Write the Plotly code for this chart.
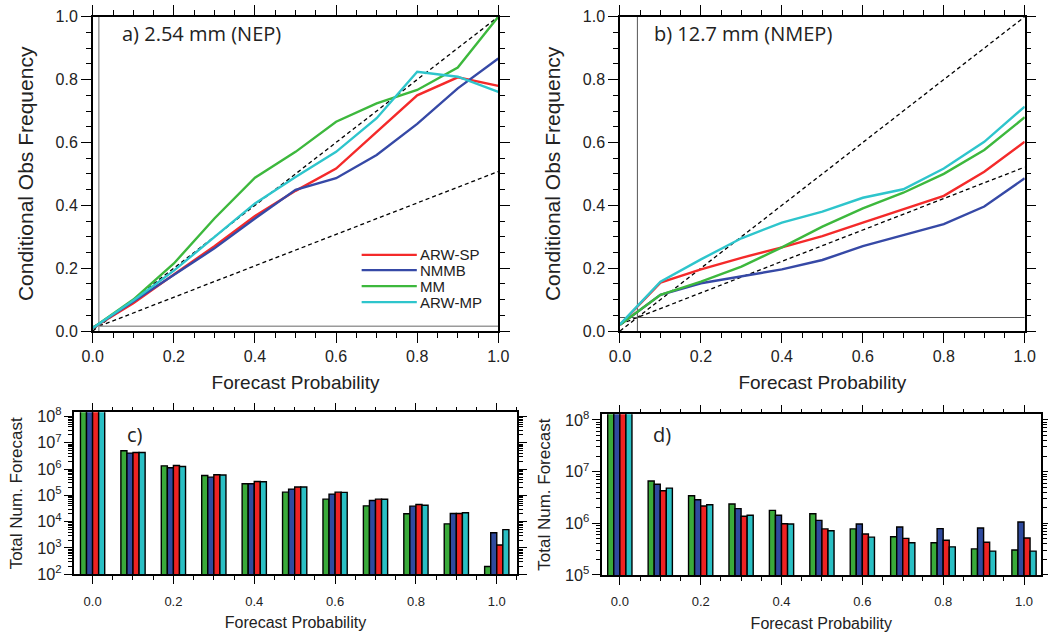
import plotly.graph_objects as go

# ---------------- data ----------------
prob = [0.0, 0.1, 0.2, 0.3, 0.4, 0.5, 0.6, 0.7, 0.8, 0.9, 1.0]
models = ["ARW-SP", "NMMB", "MM", "ARW-MP"]

# panel a) 2.54 mm (NEP) reliability
a_arwsp = [0.01, 0.088, 0.18, 0.27, 0.366, 0.446, 0.517, 0.634, 0.75, 0.807, 0.78]
a_nmmb = [0.01, 0.095, 0.18, 0.263, 0.358, 0.449, 0.486, 0.56, 0.659, 0.772, 0.867]
a_mm = [0.01, 0.10, 0.215, 0.358, 0.488, 0.57, 0.666, 0.724, 0.767, 0.838, 1.0]
a_arwmp = [0.01, 0.097, 0.192, 0.30, 0.406, 0.49, 0.57, 0.677, 0.825, 0.809, 0.761]
clim_a = 0.015

# panel b) 12.7 mm (NMEP) reliability
b_arwsp = [0.02, 0.154, 0.196, 0.233, 0.266, 0.302, 0.345, 0.387, 0.43, 0.507, 0.602]
b_nmmb = [0.02, 0.115, 0.152, 0.175, 0.196, 0.226, 0.27, 0.305, 0.34, 0.396, 0.486]
b_mm = [0.02, 0.115, 0.157, 0.205, 0.266, 0.332, 0.39, 0.44, 0.50, 0.576, 0.68]
b_arwmp = [0.021, 0.157, 0.228, 0.295, 0.345, 0.38, 0.424, 0.451, 0.517, 0.602, 0.714]
clim_b = 0.043

# panel c) forecast counts (2.54 mm)
c_mm = [2e8, 5.0e6, 1.33e6, 5.7e5, 2.76e5, 1.33e5, 7.2e4, 4.0e4, 2.0e4, 8.3e3, 198]
c_nmmb = [2e8, 4.06e6, 1.12e6, 4.95e5, 2.76e5, 1.74e5, 1.12e5, 6.4e4, 3.9e4, 2.04e4, 3.8e3]
c_arwsp = [2e8, 4.3e6, 1.37e6, 6.07e5, 3.4e5, 2.1e5, 1.33e5, 7.2e4, 4.5e4, 2.04e4, 1.3e3]
c_arwmp = [2e8, 4.3e6, 1.26e6, 6.0e5, 3.3e5, 2.1e5, 1.3e5, 7.1e4, 4.2e4, 2.2e4, 5.0e3]

# panel d) forecast counts (12.7 mm)
d_mm = [2e8, 6.6e6, 3.42e6, 2.36e6, 1.78e6, 1.53e6, 7.8e5, 5.5e5, 4.2e5, 3.2e5, 3.05e5]
d_nmmb = [2e8, 5.7e6, 2.86e6, 1.92e6, 1.43e6, 1.14e6, 9.7e5, 8.5e5, 7.9e5, 8.1e5, 1.06e6]
d_arwsp = [2e8, 4.27e6, 2.16e6, 1.37e6, 9.8e5, 7.8e5, 6.2e5, 5.1e5, 4.7e5, 4.3e5, 5.2e5]
d_arwmp = [2e8, 4.8e6, 2.29e6, 1.43e6, 9.7e5, 7.2e5, 5.4e5, 4.2e5, 3.5e5, 2.9e5, 2.9e5]

line_colors = {"ARW-SP": "#F42A2A", "NMMB": "#3649A6", "MM": "#3DB83D", "ARW-MP": "#2EC5CC"}
bar_colors = {"MM": "#3AAA3A", "NMMB": "#2F4A9E", "ARW-SP": "#EE2222", "ARW-MP": "#2ABFC4"}

FONT = "Liberation Sans, Arial, sans-serif"
LBL_FONT = "Open Sans, sans-serif"

fig = go.Figure()

# ---------------- reliability panels ----------------
def reliability(xa, ya, series, clim, clim_color, clim_w):
    fig.add_trace(go.Scatter(x=[0, 1], y=[0, 1], mode="lines", xaxis=xa, yaxis=ya,
                             line=dict(color="black", width=1.3, dash="4px,3px"),
                             showlegend=False, hoverinfo="skip"))
    fig.add_trace(go.Scatter(x=[0, 1], y=[clim / 2, (1 + clim) / 2], mode="lines", xaxis=xa, yaxis=ya,
                             line=dict(color="black", width=1.3, dash="4px,3px"),
                             showlegend=False, hoverinfo="skip"))
    fig.add_trace(go.Scatter(x=[clim, clim], y=[0, 1], mode="lines", xaxis=xa, yaxis=ya,
                             line=dict(color=clim_color, width=clim_w),
                             showlegend=False, hoverinfo="skip"))
    fig.add_trace(go.Scatter(x=[0, 1], y=[clim, clim], mode="lines", xaxis=xa, yaxis=ya,
                             line=dict(color=clim_color, width=clim_w),
                             showlegend=False, hoverinfo="skip"))
    for name, vals in series:
        fig.add_trace(go.Scatter(x=prob, y=vals, mode="lines", name=name, xaxis=xa, yaxis=ya,
                                 line=dict(color=line_colors[name], width=2.4),
                                 showlegend=False))

reliability("x", "y", [("ARW-SP", a_arwsp), ("NMMB", a_nmmb), ("MM", a_mm), ("ARW-MP", a_arwmp)],
            clim_a, "#9a9a9a", 1.5)
reliability("x2", "y2", [("ARW-SP", b_arwsp), ("NMMB", b_nmmb), ("MM", b_mm), ("ARW-MP", b_arwmp)],
            clim_b, "#555555", 1.0)

# ---------------- count panels ----------------
for xa, ya, series in [("x3", "y3", [("MM", c_mm), ("NMMB", c_nmmb), ("ARW-SP", c_arwsp), ("ARW-MP", c_arwmp)]),
                       ("x4", "y4", [("MM", d_mm), ("NMMB", d_nmmb), ("ARW-SP", d_arwsp), ("ARW-MP", d_arwmp)])]:
    for name, vals in series:
        fig.add_trace(go.Bar(x=prob, y=vals, name=name, xaxis=xa, yaxis=ya,
                             marker=dict(color=bar_colors[name], line=dict(color="black", width=1.4)),
                             offsetgroup=name, showlegend=False))

# ---------------- axes ----------------
def lin_axis(domain, title, anchor, dtick=0.2, minor_dtick=0.05, fs=16, tfs=19, standoff=10):
    return dict(domain=domain, range=[0, 1], anchor=anchor, dtick=dtick, tick0=0,
                tickformat=".1f", ticks="outside", ticklen=10, tickwidth=1.3, tickcolor="black",
                minor=dict(dtick=minor_dtick, ticks="outside", ticklen=5, tickwidth=1, tickcolor="black"),
                showline=True, linecolor="black", linewidth=1.5, mirror="ticks",
                showgrid=False, zeroline=False, automargin=False,
                tickfont=dict(family=FONT, size=fs, color="#222"),
                title=dict(text=title, font=dict(family=FONT, size=tfs, color="#222"), standoff=standoff))

ya_dom = [0.4787, 0.9737]
fig.update_layout(
    xaxis=lin_axis([0.0885, 0.4755], "Forecast Probability", "y", standoff=12),
    yaxis=lin_axis(ya_dom, "Conditional Obs Frequency", "x", tfs=21, standoff=16),
    xaxis2=lin_axis([0.5916, 0.9778], "Forecast Probability", "y2", standoff=12),
    yaxis2=lin_axis(ya_dom, "Conditional Obs Frequency", "x2", tfs=21, standoff=16),
)

def bar_x_axis(domain, anchor, rng):
    ax = lin_axis(domain, "Forecast Probability", anchor, fs=13, tfs=16, standoff=9)
    ax["range"] = rng
    ax["ticklen"] = 8
    ax["minor"]["ticklen"] = 4
    ax["ticklabelstandoff"] = 6
    return ax

def log_axis(domain, anchor, rng):
    return dict(domain=domain, type="log", range=rng, anchor=anchor, dtick=1,
                exponentformat="power", showexponent="all",
                ticks="outside", ticklen=8, tickwidth=1.3, tickcolor="black",
                minor=dict(ticks="outside", ticklen=4, tickwidth=1, tickcolor="black", showgrid=False),
                showline=True, linecolor="black", linewidth=1.5, mirror="ticks",
                showgrid=False, zeroline=False, automargin=False,
                tickfont=dict(family=FONT, size=13, color="#222"),
                title=dict(text="Total Num. Forecast", font=dict(family=FONT, size=17, color="#222"), standoff=10))

fig.update_layout(
    xaxis3=bar_x_axis([0.0706, 0.4933], "y3", [-0.046, 1.05]),
    yaxis3=log_axis([0.0956, 0.3507], "x3", [2, 8.16]),
    xaxis4=bar_x_axis([0.5741, 0.9933], "y4", [-0.045, 1.042]),
    yaxis4=log_axis([0.0945, 0.3476], "x4", [5, 8.11]),
)

# ---------------- panel labels & legend ----------------
ann = [
    dict(text="a) 2.54 mm (NEP)", x=0.067, y=0.947, xref="x", yref="y"),
    dict(text="b) 12.7 mm (NMEP)", x=0.078, y=0.947, xref="x2", yref="y2"),
    dict(text="c)", x=0.079, y=7.30, xref="x3", yref="y3"),
    dict(text="d)", x=0.078, y=7.72, xref="x4", yref="y4"),
]
for a in ann:
    a.update(showarrow=False, xanchor="left", yanchor="middle",
             font=dict(family=LBL_FONT, size=20, color="#222"))

legend_y = [0.242, 0.194, 0.143, 0.092]
shapes = []
for name, ly in zip(models, legend_y):
    shapes.append(dict(type="line", xref="x", yref="y", x0=0.663, x1=0.799, y0=ly, y1=ly,
                       line=dict(color=line_colors[name], width=2.2)))
    ann.append(dict(text=name, x=0.802, y=ly, xref="x", yref="y", showarrow=False,
                    xanchor="left", yanchor="middle",
                    font=dict(family=FONT, size=15, color="#222")))

fig.update_layout(annotations=ann, shapes=shapes)

fig.update_layout(
    width=1048, height=635, margin=dict(l=0, r=0, t=0, b=0),
    paper_bgcolor="white", plot_bgcolor="white",
    barmode="group", bargap=0.4, bargroupgap=0,
    showlegend=False,
)

fig.write_html("out.html")
